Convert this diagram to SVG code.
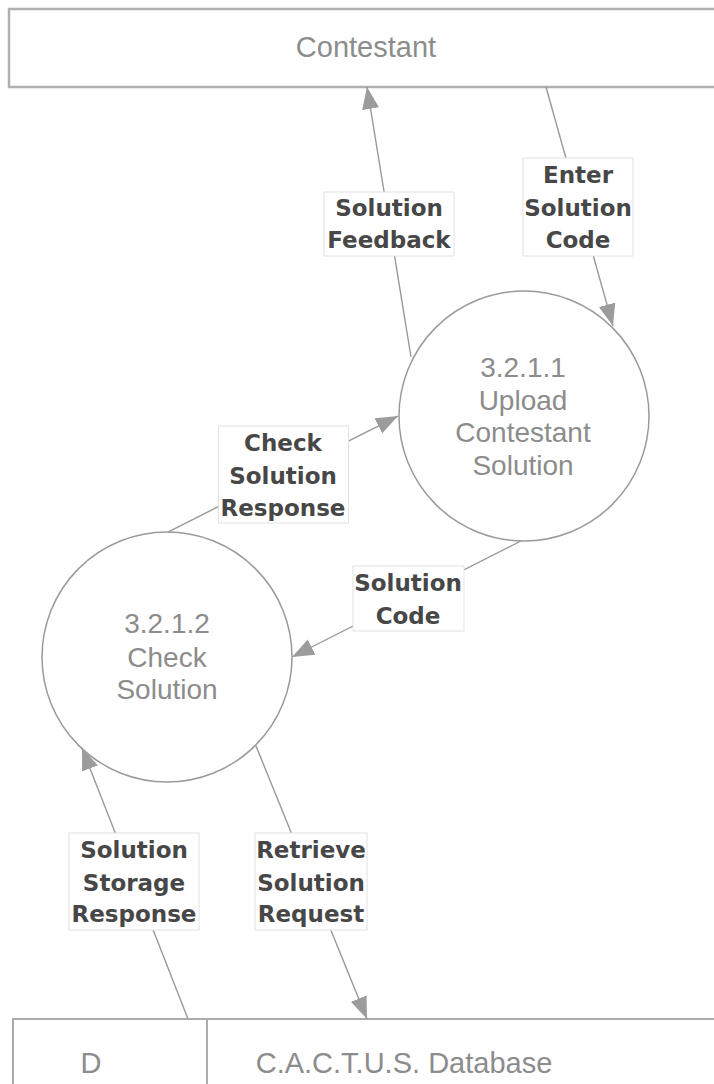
<svg xmlns="http://www.w3.org/2000/svg" width="714" height="1084" viewBox="0 0 714 1084">
<defs>
<style>
.bg{fill:#ffffff}
.entity{fill:#ffffff;stroke:#b0b0b0;stroke-width:2.5}
.store{fill:#ffffff;stroke:#acacac;stroke-width:2}
.proc{fill:#ffffff;stroke:#9a9a9a;stroke-width:1.5}
.ptxt{font-family:"Liberation Sans",Arial,sans-serif;font-size:28px;fill:#8c8c8c;text-anchor:middle}
.etxt{font-family:"Liberation Sans",Arial,sans-serif;font-size:29px;fill:#8c8c8c;text-anchor:middle}
.conn{fill:none;stroke:#999999;stroke-width:1.4}
.lbox{fill:#ffffff;stroke:#e2e2e2;stroke-width:1}
.ltxt{font-family:"DejaVu Sans",Verdana,sans-serif;font-size:23px;font-weight:bold;fill:#474747;text-anchor:middle}
</style>
<marker id="arr" markerWidth="24" markerHeight="18" refX="22" refY="8.5" orient="auto" markerUnits="userSpaceOnUse">
<path d="M0,0 L22,8.5 L0,17 z" fill="#9c9c9c"/>
</marker>
</defs>
<rect class="bg" x="0" y="0" width="714" height="1084"/>

<g id="contestant">
<rect class="entity" x="9" y="9" width="720" height="78"/>
<text class="etxt" x="366" y="57">Contestant</text>
</g>

<g id="p3211">
<circle class="proc" cx="524" cy="416" r="125"/>
<text class="ptxt" x="523" y="377">3.2.1.1</text>
<text class="ptxt" x="523" y="410">Upload</text>
<text class="ptxt" x="523" y="442">Contestant</text>
<text class="ptxt" x="523" y="475">Solution</text>
</g>

<g id="p3212">
<circle class="proc" cx="167" cy="657" r="125"/>
<text class="ptxt" x="167" y="633">3.2.1.2</text>
<text class="ptxt" x="167" y="667">Check</text>
<text class="ptxt" x="167" y="699">Solution</text>
</g>

<g id="database">
<rect class="store" x="13" y="1019" width="720" height="100"/>
<line class="store" x1="207" y1="1019" x2="207" y2="1090"/>
<text class="etxt" x="91" y="1073">D</text>
<text class="etxt" x="404" y="1073">C.A.C.T.U.S. Database</text>
</g>

<g id="connectors">
<line class="conn" x1="411" y1="357" x2="367" y2="87" marker-end="url(#arr)"/>
<line class="conn" x1="546" y1="87" x2="613" y2="326" marker-end="url(#arr)"/>
<line class="conn" x1="168" y1="532" x2="398" y2="416" marker-end="url(#arr)"/>
<line class="conn" x1="521" y1="541" x2="292" y2="657" marker-end="url(#arr)"/>
<line class="conn" x1="188" y1="1019" x2="82" y2="748" marker-end="url(#arr)"/>
<line class="conn" x1="256" y1="746" x2="367" y2="1019" marker-end="url(#arr)"/>
</g>

<g id="labels">
<g id="lbl-solution-feedback">
<rect class="lbox" x="324" y="192" width="130" height="64"/>
<text class="ltxt" x="389" y="216">Solution</text>
<text class="ltxt" x="389" y="248">Feedback</text>
</g>
<g id="lbl-enter-solution-code">
<rect class="lbox" x="523" y="158" width="110" height="98"/>
<text class="ltxt" x="578" y="183">Enter</text>
<text class="ltxt" x="578" y="216">Solution</text>
<text class="ltxt" x="578" y="248">Code</text>
</g>
<g id="lbl-check-solution-response">
<rect class="lbox" x="218.5" y="426" width="130" height="97"/>
<text class="ltxt" x="283" y="451">Check</text>
<text class="ltxt" x="283" y="484">Solution</text>
<text class="ltxt" x="283" y="516">Response</text>
</g>
<g id="lbl-solution-code">
<rect class="lbox" x="353" y="566" width="111" height="65"/>
<text class="ltxt" x="408" y="591">Solution</text>
<text class="ltxt" x="408" y="624">Code</text>
</g>
<g id="lbl-solution-storage-response">
<rect class="lbox" x="69" y="833" width="130" height="97"/>
<text class="ltxt" x="134" y="858">Solution</text>
<text class="ltxt" x="134" y="891">Storage</text>
<text class="ltxt" x="134" y="922">Response</text>
</g>
<g id="lbl-retrieve-solution-request">
<rect class="lbox" x="255" y="833" width="112" height="97"/>
<text class="ltxt" x="311" y="858">Retrieve</text>
<text class="ltxt" x="311" y="891">Solution</text>
<text class="ltxt" x="311" y="922">Request</text>
</g>
</g>
</svg>
